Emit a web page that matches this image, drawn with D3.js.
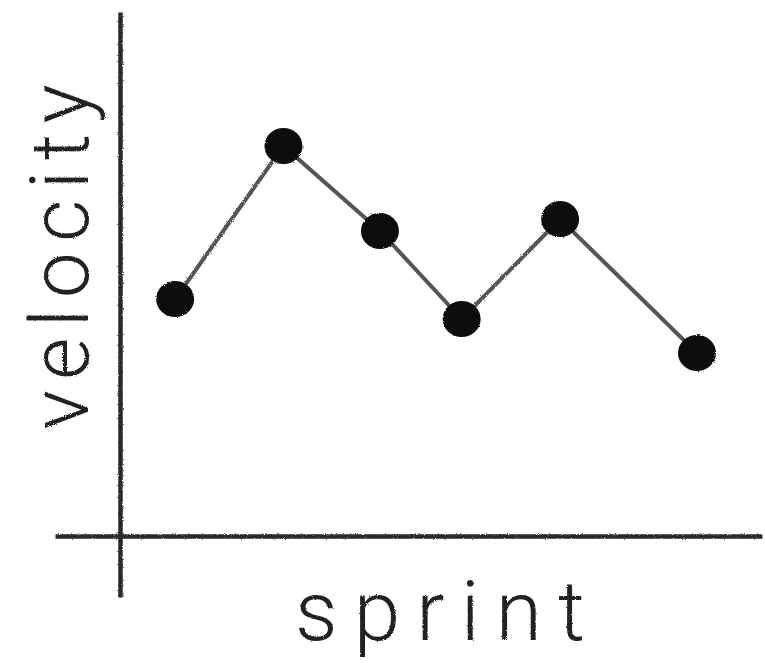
<!DOCTYPE html>
<html>
<head>
<meta charset="utf-8">
<script src="https://cdn.jsdelivr.net/npm/d3@7/dist/d3.min.js"></script>
<style>
  html, body { margin: 0; padding: 0; background: #fff; }
  svg { display: block; }
</style>
</head>
<body>
<svg id="chart" width="765" height="663"></svg>
<script>
// ---- data ----
const sprints = [0.56, 1.66, 2.64, 3.47, 4.47, 5.86];   // horizontal position, sprint units
const velocity = [4.74, 7.80, 6.10, 4.34, 6.34, 3.66];   // vertical position, velocity units
const xAxisLabel = "sprint";
const yAxisLabel = "velocity";

const svg = d3.select("#chart");
const W = 765, H = 663;

const axisX0 = 120, axisY0 = 536;
const x = d3.scaleLinear().domain([0, 6.5]).range([axisX0, 760]);
const y = d3.scaleLinear().domain([0, 10]).range([axisY0, 36]);

// pencil-like roughness filter
const defs = svg.append("defs");
const f = defs.append("filter").attr("id", "rough").attr("x", "-10%").attr("y", "-10%").attr("width", "120%").attr("height", "120%");
f.append("feTurbulence").attr("type", "fractalNoise").attr("baseFrequency", 0.9).attr("numOctaves", 2).attr("result", "noise");
f.append("feDisplacementMap").attr("in", "SourceGraphic").attr("in2", "noise").attr("scale", 2.5);

const g = svg.append("g").attr("filter", "url(#rough)");

// x axis: line only (no ticks), extending left past the y axis
const xAxisScale = d3.scaleLinear().domain([-0.66, 6.5]).range([55, 762]);
const xAxis = d3.axisBottom(xAxisScale).tickValues([]).tickSizeOuter(0);
const gx = g.append("g").attr("transform", `translate(0,${axisY0})`).call(xAxis);
gx.select(".domain").attr("stroke", "#2a2a2a").attr("stroke-width", 4.5);

// y axis: line only, extending below the x axis
const yAxisScale = d3.scaleLinear().domain([-1.2, 10.48]).range([597, 12]);
const yAxis = d3.axisLeft(yAxisScale).tickValues([]).tickSizeOuter(0);
const gy = g.append("g").attr("transform", `translate(${axisX0},0)`).call(yAxis);
gy.select(".domain").attr("stroke", "#2a2a2a").attr("stroke-width", 4.5);

// connecting line
const pts = sprints.map((s, i) => [s, velocity[i]]);
g.append("path")
  .datum(pts)
  .attr("fill", "none")
  .attr("stroke", "#555")
  .attr("stroke-width", 4)
  .attr("d", d3.line().x(d => x(d[0])).y(d => y(d[1])));

// points
g.selectAll("ellipse.pt")
  .data(pts)
  .join("ellipse")
  .attr("class", "pt")
  .attr("cx", d => x(d[0]))
  .attr("cy", d => y(d[1]))
  .attr("rx", 19)
  .attr("ry", 18)
  .attr("fill", "#111");

// axis labels
g.append("text")
  .attr("x", 440)
  .attr("y", 640)
  .attr("text-anchor", "middle")
  .attr("font-family", "Roboto, 'DejaVu Sans', sans-serif")
  .attr("font-weight", 300)
  .attr("font-size", 84)
  .attr("fill", "#222")
  .attr("textLength", 290)
  .attr("lengthAdjust", "spacing")
  .text(xAxisLabel);

g.append("text")
  .attr("transform", "translate(88,257) rotate(-90)")
  .attr("text-anchor", "middle")
  .attr("font-family", "Roboto, 'DejaVu Sans', sans-serif")
  .attr("font-weight", 300)
  .attr("font-size", 82)
  .attr("fill", "#222")
  .attr("textLength", 345)
  .attr("lengthAdjust", "spacing")
  .text(yAxisLabel);
</script>
</body>
</html>
